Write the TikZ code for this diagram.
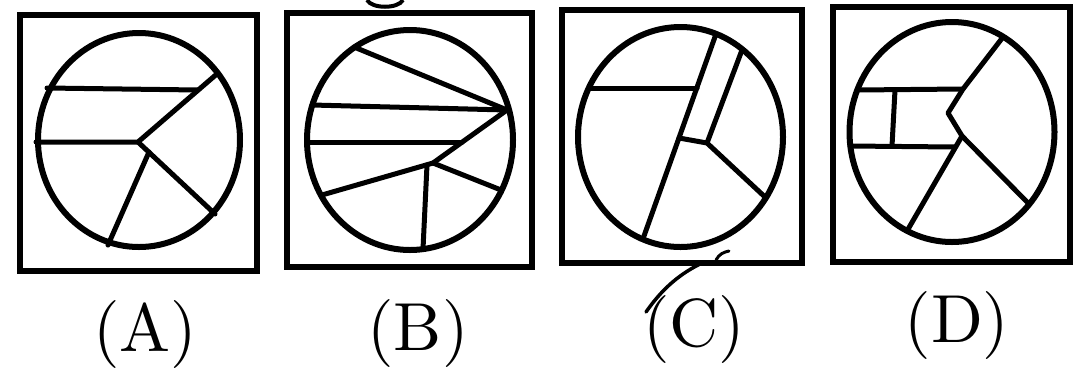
\documentclass[tikz,border=0pt]{standalone}
\usepackage{fontspec}
\newfontfamily\labfont{lmroman10-regular}[Extension=.otf]
\begin{document}
\begin{tikzpicture}[x=1pt,y=-1pt,
  frame/.style={line width=6pt},
  ring/.style={line width=6pt},
  seg/.style={line width=5pt, line cap=round, line join=round},
  pen/.style={line width=3.5pt, line cap=round},
  lab/.style={font=\labfont\fontsize{68}{72}\selectfont, anchor=base, inner sep=0pt}]
\useasboundingbox (0,0) rectangle (1083,384);
\fill[white] (0,0) rectangle (1083,384);

% ---------- Panel A ----------
\draw[frame] (20,15) rectangle (257,271);
\draw[ring] (139,140) ellipse [x radius=101, y radius=107];
\coordinate (aJ) at (138,142);
\coordinate (aTR) at (218,73);
\coordinate (aLR) at (215,214);
\coordinate (aK) at (149,152);
\draw[seg] (aTR) -- (aJ) -- (36,142);
\draw[seg] (47,88) -- (198,90);
\draw[seg] (aJ) -- (aLR);
\draw[seg] (aK) -- (108,245);

% ---------- Panel B ----------
\draw[frame] (287,13) rectangle (532,267);
\draw[ring] (410,140) ellipse [x radius=103, y radius=110];
\coordinate (bP) at (507,110);
\coordinate (bJ) at (433,163);
\coordinate (bK) at (462,142);
\draw[seg] (354,47) -- (bP);
\draw[seg] (312,105) -- (bP);
\draw[seg] (322,195) -- (bJ) -- (bP);
\draw[seg] (307,142) -- (bK);
\draw[seg] (bJ) -- (501,190);
\draw[seg] (427,165) -- (423,249);
% fragment above frame
\draw[line width=4pt] (367,0) .. controls (372,9) and (398,9) .. (403,0);

% ---------- Panel C ----------
\draw[frame] (562,10) rectangle (802,263);
\draw[ring] (680.5,137) ellipse [x radius=102.5, y radius=110];
\coordinate (cR) at (679,138);
\coordinate (cQ) at (707,143);
\draw[seg] (716,34) -- (644,236);
\draw[seg] (742,50) -- (cQ);
\draw[seg] (cR) -- (cQ) -- (765,197);
\draw[seg] (589,88) -- (697,88);
% pen strokes
\draw[pen] (646,312) .. controls (660,292) and (676,276) .. (700,264);
\draw[line width=3pt, line cap=round] (716,260) .. controls (719,254) and (724,252) .. (729,251);

% ---------- Panel D ----------
\draw[frame] (833,7) rectangle (1070,262);
\draw[ring] (952,132) ellipse [x radius=102.5, y radius=110];
\coordinate (dU) at (1003,37);
\coordinate (dT) at (963,89);
\coordinate (dV) at (948,113);
\coordinate (dW) at (962,136);
\coordinate (dLR) at (1029,204);
\draw[seg] (dU) -- (dT) -- (dV) -- (dW) -- (dLR);
\draw[seg] (857,90) -- (dT);
\draw[seg] (dW) -- (907,231);
\draw[seg] (850,146) -- (955,147);
\draw[seg] (895,90) -- (892,146);

% ---------- Labels ----------
\node[lab] (la) at (145,351) {(A)};
\node[lab] (lb) at (418,350) {(B)};
\node[lab] (lc) at (694,346) {(C)};
\node[lab] (ld) at (957,342) {(D)};
\end{tikzpicture}
\end{document}
